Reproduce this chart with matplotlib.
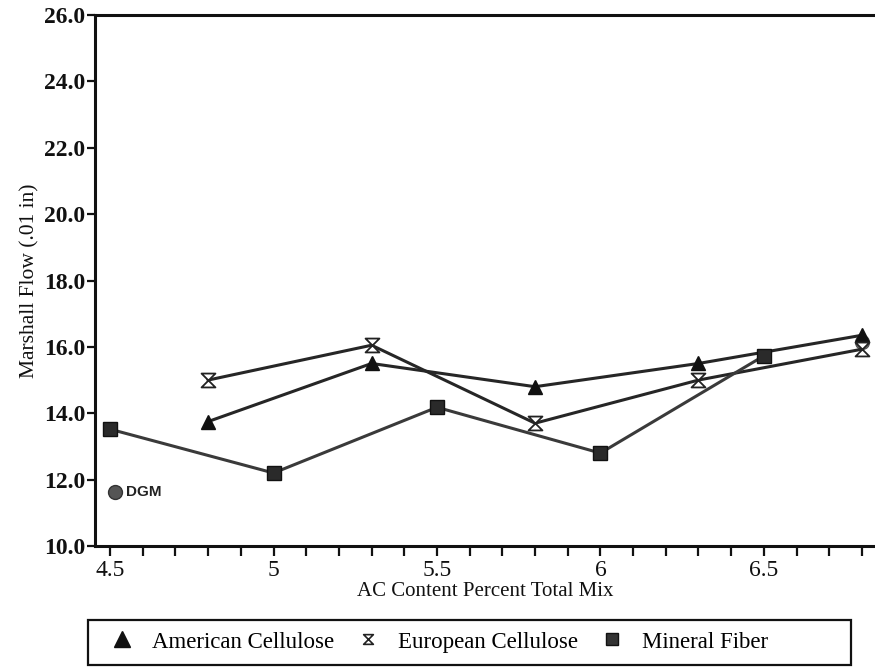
import matplotlib
matplotlib.use("Agg")
import matplotlib.pyplot as plt
from matplotlib.path import Path
from matplotlib.patches import Rectangle
from matplotlib.ticker import MultipleLocator, FormatStrFormatter
from matplotlib.lines import Line2D

plt.rcParams['font.family'] = ['Liberation Serif', 'DejaVu Serif']

# Marshall flow (.01 in) versus asphalt content (% of total mix)
american_x = [4.8, 5.3, 5.8, 6.3, 6.8]
american_y = [13.75, 15.5, 14.8, 15.5, 16.35]

european_x = [4.8, 5.3, 5.8, 6.3, 6.8]
european_y = [15.0, 16.05, 13.7, 15.0, 15.93]

mineral_x = [4.5, 5.0, 5.5, 6.0, 6.5]
mineral_y = [13.52, 12.2, 14.18, 12.8, 15.73]

dgm_x = [6.8]
dgm_y = [16.15]

series_labels = ["American Cellulose", "European Cellulose", "Mineral Fiber"]

# hourglass marker: two triangles meeting at the tip
hourglass = Path([(-1, 1), (1, 1), (-1, -1), (1, -1), (-1, 1)],
                 [Path.MOVETO, Path.LINETO, Path.LINETO, Path.LINETO, Path.CLOSEPOLY])

fig = plt.figure(figsize=(8.75, 6.67), dpi=100)
ax = fig.add_axes([0.1086, 0.1814, 0.8914, 0.7961])

line_col = "#262626"
ax.plot(dgm_x, dgm_y, ls="none", marker="o", ms=10, mfc="#7a7a7a", mec="#555555", zorder=2)
ax.plot(american_x, american_y, color=line_col, lw=2.2, marker="^", ms=10,
        mfc="#111111", mec="#111111", zorder=3)
ax.plot(european_x, european_y, color=line_col, lw=2.2, marker=hourglass, ms=10,
        mfc="white", mec="#222222", mew=1.3, zorder=3)
ax.plot(mineral_x, mineral_y, color="#3a3a3a", lw=2.2, marker="s", ms=10,
        mfc="#2a2a2a", mec="#111111", zorder=3)

# DGM key inside the plot
ax.plot([4.515], [11.62], ls="none", marker="o", ms=10, mfc="#555555", mec="#333333")
ax.text(4.55, 11.62, "DGM", family=["Liberation Sans", "DejaVu Sans"], weight="bold",
        fontsize=11, va="center", ha="left", color="#222222")

ax.set_xlim(4.454, 6.84)
ax.set_ylim(10, 26)
ax.xaxis.set_major_locator(MultipleLocator(0.5))
ax.xaxis.set_minor_locator(MultipleLocator(0.1))
ax.yaxis.set_major_locator(MultipleLocator(2))
ax.yaxis.set_major_formatter(FormatStrFormatter("%.1f"))
ax.xaxis.set_major_formatter(FormatStrFormatter("%g"))

for s in ["left", "bottom", "top"]:
    ax.spines[s].set_linewidth(2.2)
    ax.spines[s].set_color("#111111")
ax.spines["right"].set_visible(False)

ax.tick_params(axis="x", which="both", direction="out", length=7, width=1.6,
               labelsize=17, pad=3, colors="#111111")
ax.tick_params(axis="y", which="major", direction="out", length=6, width=1.6,
               labelsize=17, pad=1, colors="#111111")
for lbl in ax.get_yticklabels():
    lbl.set_fontweight("bold")

ax.set_xlabel("AC Content Percent Total Mix", fontsize=15, labelpad=1, color="#111111")
ax.set_ylabel("Marshall Flow (.01 in)", fontsize=15.5, labelpad=3, color="#111111")

# legend box below the plot
fig.patches.append(Rectangle((88 / 875, 1 - 665 / 667), (851 - 88) / 875, (665 - 620) / 667,
                             transform=fig.transFigure, fill=False, lw=1.6, ec="#111111"))
handles = [
    Line2D([], [], ls="none", marker="^", ms=11, mfc="#111111", mec="#111111"),
    Line2D([], [], ls="none", marker=hourglass, ms=7, mfc="white", mec="#222222", mew=1.2),
    Line2D([], [], ls="none", marker="s", ms=9, mfc="#333333", mec="#111111"),
]
fig.legend(handles, series_labels, loc="center left", bbox_to_anchor=(99 / 875, 1 - 642 / 667),
           ncol=3, frameon=False, fontsize=16.5, handlelength=1.0, handletextpad=0.8,
           columnspacing=1.0, borderpad=0)

fig.savefig("out.png", dpi=100)
